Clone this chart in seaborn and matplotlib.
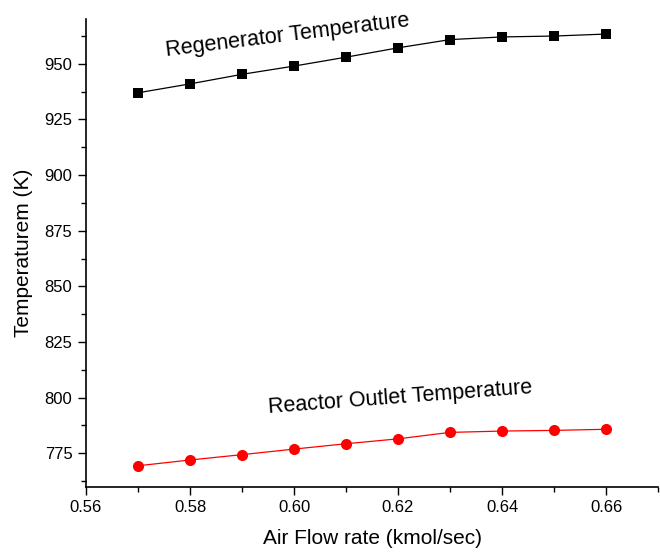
"""
Air flow rate vs. regenerator / reactor outlet temperature.
Standalone script: draws the figure and saves it to out.png.
"""
from __future__ import annotations

import matplotlib

matplotlib.use("Agg")
import matplotlib.pyplot as plt
import pandas as pd
import seaborn as sns
from matplotlib.ticker import AutoMinorLocator, FormatStrFormatter, MultipleLocator

# data
air_flow = [0.57, 0.58, 0.59, 0.60, 0.61, 0.62, 0.63, 0.64, 0.65, 0.66]
regenerator_temp = [937.0, 941.0, 945.3, 949.0, 953.0, 957.2, 960.9, 962.1, 962.5, 963.4]
reactor_outlet_temp = [769.4, 772.0, 774.4, 776.9, 779.3, 781.5, 784.4, 785.0, 785.3, 785.8]


def set_style() -> None:
    sns.set_theme(context="paper", style="ticks")
    plt.rcParams.update({
        "font.family": ["Liberation Sans", "DejaVu Sans"],
        "font.size": 12,
        "axes.linewidth": 1.2,
        "xtick.direction": "out",
        "ytick.direction": "out",
        "xtick.major.size": 5.8,
        "ytick.major.size": 5.8,
        "xtick.minor.size": 3.4,
        "ytick.minor.size": 3.4,
        "xtick.major.width": 1.0,
        "ytick.major.width": 1.0,
        "xtick.minor.width": 1.0,
        "ytick.minor.width": 1.0,
        "xtick.labelsize": 12,
        "ytick.labelsize": 12,
        "xtick.color": "black",
        "ytick.color": "black",
        "axes.edgecolor": "black",
        "text.color": "black",
        "axes.labelcolor": "black",
    })


def build_figure() -> plt.Figure:
    df = pd.DataFrame({
        "air_flow": air_flow,
        "regenerator": regenerator_temp,
        "reactor": reactor_outlet_temp,
    })

    fig = plt.figure(figsize=(6.6, 5.53), dpi=100)
    ax = fig.add_axes([0.1303, 0.1199, 0.8667, 0.8451])

    sns.lineplot(data=df, x="air_flow", y="regenerator", ax=ax, color="black",
                 linewidth=0.9, marker="s", markersize=7.0, markeredgewidth=0,
                 markerfacecolor="black")
    sns.lineplot(data=df, x="air_flow", y="reactor", ax=ax, color="#ff0000",
                 linewidth=0.9, marker="o", markersize=8.0, markeredgewidth=0,
                 markerfacecolor="#ff0000")

    ax.set_xlim(0.56, 0.67)
    ax.set_ylim(760, 970)
    ax.xaxis.set_major_locator(MultipleLocator(0.02))
    ax.xaxis.set_major_formatter(FormatStrFormatter("%.2f"))
    ax.xaxis.set_minor_locator(AutoMinorLocator(2))
    ax.yaxis.set_major_locator(MultipleLocator(25))
    ax.yaxis.set_minor_locator(AutoMinorLocator(2))
    ax.tick_params(axis="both", which="major", pad=4)

    ax.set_xlabel("Air Flow rate (kmol/sec)", fontsize=15, labelpad=10)
    ax.set_ylabel("Temperaturem (K)", fontsize=15, labelpad=8)

    ax.text(0.5755, 953.4, "Regenerator Temperature", fontsize=15.5,
            rotation=7.0, rotation_mode="anchor", ha="left", va="baseline")
    ax.text(0.5951, 793.2, "Reactor Outlet Temperature", fontsize=15.5,
            rotation=4.3, rotation_mode="anchor", ha="left", va="baseline")

    sns.despine(ax=ax)
    return fig


def main() -> None:
    set_style()
    fig = build_figure()
    fig.savefig("out.png", dpi=100, facecolor="white")


if __name__ == "__main__":
    main()
